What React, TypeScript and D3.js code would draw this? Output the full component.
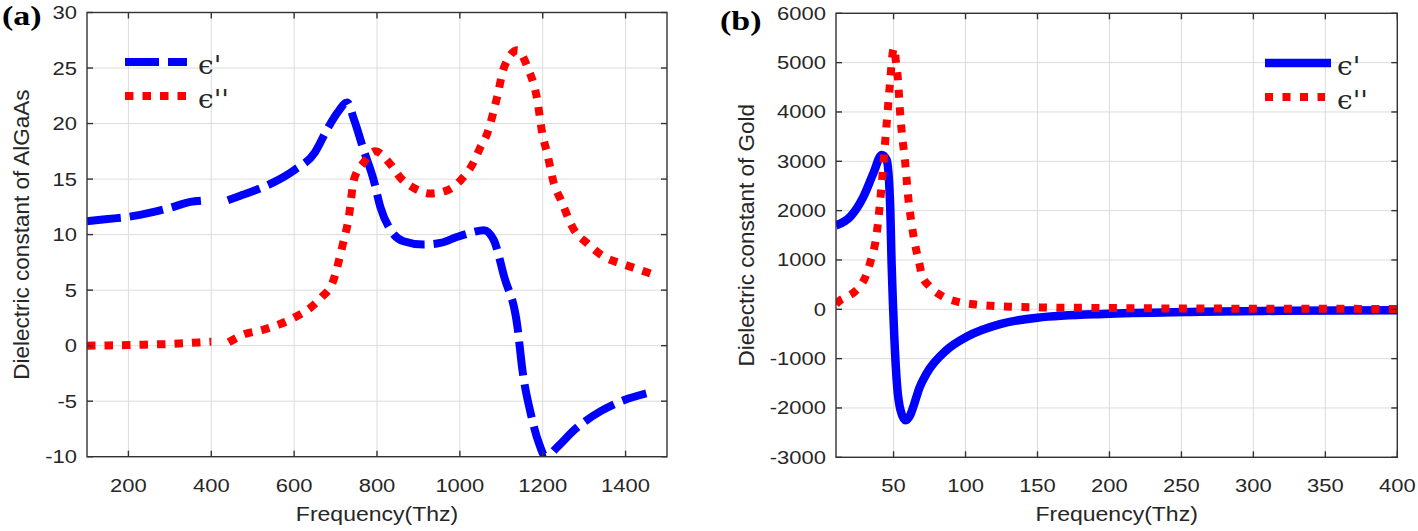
import React from 'react';
import * as d3 from 'd3';

// ---------- Panel (a): AlGaAs ----------
const aFreq = [100, 150, 200, 250, 300, 350, 375, 410, 440, 470, 500, 550, 600, 650, 680, 705, 728, 745, 768, 792, 808, 833, 864, 912, 953, 994, 1030, 1058, 1082, 1107, 1139, 1151, 1171, 1191, 1207, 1236, 1276, 1340, 1397, 1450];
const aReal: (number | null)[] = [11.2, 11.4, 11.6, 11.95, 12.4, 12.95, 13.05, null, 13.1, 13.5, 13.9, 14.7, 15.8, 17.4, 19.5, 21.0, 21.9, 20.3, 17.6, 14.9, 12.5, 10.4, 9.4, 9.1, 9.25, 9.8, 10.2, 10.4, 9.5, 6.2, 1.7, -2.2, -6.1, -8.8, -10.0, -9.1, -7.6, -5.9, -4.9, -4.3];

const aImagFreq = [100, 150, 200, 250, 300, 350, 400, 420, 442, 478, 522, 563, 599, 639, 667, 692, 716, 732, 744, 768, 796, 833, 857, 889, 929, 970, 1002, 1030, 1050, 1066, 1078, 1090, 1107, 1139, 1163, 1187, 1199, 1211, 1227, 1244, 1276, 1308, 1348, 1389, 1437, 1460];
const aImag: (number | null)[] = [0, 0.02, 0.05, 0.1, 0.15, 0.25, 0.35, null, 0.3, 1.0, 1.4, 1.9, 2.5, 3.4, 4.4, 5.6, 8.9, 11.6, 14.9, 16.5, 17.5, 16.3, 15.1, 14.2, 13.7, 14.0, 14.9, 16.3, 17.9, 19.1, 20.6, 22.4, 25.1, 26.6, 25.1, 22.1, 19.1, 17.3, 14.6, 13.1, 10.4, 9.2, 8.0, 7.4, 6.8, 6.5];

const aXTicks = [200, 400, 600, 800, 1000, 1200, 1400];
const aYTicks = [-10, -5, 0, 5, 10, 15, 20, 25, 30];

// ---------- Panel (b): Gold ----------
const bFreq = [10, 20, 29, 36, 41.8, 45.2, 47.5, 48.7, 50.5, 52.5, 54.8, 58.3, 61.5, 64.5, 68, 73, 86.9, 100.8, 124, 150, 200, 263, 320, 400];
const bReal: (number | null)[] = [1700, 1880, 2280, 2760, 3130, 3030, 2215, 863, -556, -1570, -2042, -2250, -2150, -1906, -1590, -1298, -825, -556, -300, -170, -90, -48, -30, -20];

const bImagFreq = [10, 12, 18, 23, 27, 30, 33.6, 38.3, 41.8, 45.2, 47.5, 49.5, 50.5, 51.7, 53.1, 54.5, 55.9, 57.9, 60, 63.5, 68.4, 69.6, 75.3, 84.6, 96.2, 108, 124, 150, 200, 300, 400];
const bImag: (number | null)[] = [100, 160, 260, 356, 480, 628, 932, 1540, 2554, 3770, 4580, 5220, 5300, 5000, 4640, 4000, 3530, 3030, 2320, 1550, 860, 695, 458, 255, 141, 95, 60, 40, 25, 12, 8];

const bXTicks = [50, 100, 150, 200, 250, 300, 350, 400];
const bYTicks = [-3000, -2000, -1000, 0, 1000, 2000, 3000, 4000, 5000, 6000];

const legendLabels = ["\u03F5'", "\u03F5''"];

const AXIS = '#333333';
const TXT = '#262626';
const GRID = '#dcdcdc';
const SANS = '"Liberation Sans", Arial, Helvetica, sans-serif';

type Series = { freq: number[]; vals: (number | null)[]; color: string; dash?: string; width: number };

function Panel(props: {
  id: string;
  left: number; right: number; top: number; bottom: number;
  xDomain: [number, number]; yDomain: [number, number];
  xTicks: number[]; yTicks: number[];
  series: Series[];
  yLabel: string; yLabelX: number;
  tag: string; tagX: number; tagY: number;
  legend: { x1: number; x2: number; y: number; textX: number }[];
}) {
  const { left, right, top, bottom } = props;
  const x = d3.scaleLinear().domain(props.xDomain).range([left, right]);
  const y = d3.scaleLinear().domain(props.yDomain).range([bottom, top]);
  const line = d3.line<[number, number | null]>()
    .defined(d => d[1] !== null)
    .x(d => x(d[0]))
    .y(d => y(d[1] as number))
    .curve(d3.curveMonotoneX);
  const tickLen = 6;
  const cx = (left + right) / 2;
  const cy = (top + bottom) / 2;
  return (
    <g>
      <defs>
        <clipPath id={'clip-' + props.id}>
          <rect x={left} y={top} width={right - left} height={bottom - top} />
        </clipPath>
      </defs>
      <rect x={left} y={top} width={right - left} height={bottom - top} fill="#fff" />
      {props.xTicks.map(t => (
        <line key={'gx' + t} x1={x(t)} x2={x(t)} y1={top} y2={bottom} stroke={GRID} strokeWidth={1} />
      ))}
      {props.yTicks.map(t => (
        <line key={'gy' + t} x1={left} x2={right} y1={y(t)} y2={y(t)} stroke={GRID} strokeWidth={1} />
      ))}
      <g clipPath={`url(#clip-${props.id})`}>
        {props.series.map((s, i) => (
          <path key={i}
            d={line(s.freq.map((f, k) => [f, s.vals[k]] as [number, number | null])) || ''}
            fill="none" stroke={s.color} strokeWidth={s.width}
            strokeDasharray={s.dash} strokeLinecap="butt" strokeLinejoin="round" />
        ))}
      </g>
      <rect x={left} y={top} width={right - left} height={bottom - top} fill="none" stroke={AXIS} strokeWidth={1.4} />
      {props.xTicks.map(t => (
        <g key={'tx' + t}>
          <line x1={x(t)} x2={x(t)} y1={bottom} y2={bottom - tickLen} stroke={AXIS} strokeWidth={1.4} />
          <line x1={x(t)} x2={x(t)} y1={top} y2={top + tickLen} stroke={AXIS} strokeWidth={1.4} />
          <text transform={`translate(${x(t)},${bottom + 35}) scale(1,0.85)`} textAnchor="middle"
            fontFamily={SANS} fontSize={22} fill={TXT}>{t}</text>
        </g>
      ))}
      {props.yTicks.map(t => (
        <g key={'ty' + t}>
          <line x1={left} x2={left + tickLen} y1={y(t)} y2={y(t)} stroke={AXIS} strokeWidth={1.4} />
          <line x1={right} x2={right - tickLen} y1={y(t)} y2={y(t)} stroke={AXIS} strokeWidth={1.4} />
          <text transform={`translate(${left - 10},${y(t) + 6.5}) scale(1,0.85)`} textAnchor="end"
            fontFamily={SANS} fontSize={22} fill={TXT}>{t}</text>
        </g>
      ))}
      <text transform={`translate(${cx},${521}) scale(1,0.88)`} textAnchor="middle"
        fontFamily={SANS} fontSize={23} fill={TXT}>Frequency(Thz)</text>
      <text transform={`translate(${props.yLabelX},${cy}) rotate(-90)`} textAnchor="middle"
        fontFamily={SANS} fontSize={22.5} fill={TXT}>{props.yLabel}</text>
      <text transform={`translate(${props.tagX},${props.tagY}) scale(1,0.8)`}
        fontFamily='"Liberation Serif", "Times New Roman", serif' fontWeight="bold" fontSize={34} fill="#000">{props.tag}</text>
      {props.legend.map((l, i) => {
        const s = props.series[i];
        return (
          <g key={'lg' + i}>
            <line x1={l.x1} x2={l.x2} y1={l.y} y2={l.y} stroke={s.color} strokeWidth={s.width}
              strokeDasharray={s.dash} strokeLinecap="butt" />
            <text transform={`translate(${l.textX},${l.y + 12}) scale(1,0.9)`}
              fontFamily='"DejaVu Serif", serif' fontSize={28} fill={TXT}>{legendLabels[i]}</text>
          </g>
        );
      })}
    </g>
  );
}

export default function App() {
  return (
    <svg width={1418} height={531} style={{ position: 'absolute', left: 0, top: 0, background: '#fff' }}>
      <rect x={0} y={0} width={1418} height={531} fill="#fff" />
      <Panel id="a" left={87} right={667} top={12.5} bottom={456.7}
        xDomain={[100, 1500]} yDomain={[-10, 30]} xTicks={aXTicks} yTicks={aYTicks}
        series={[
          { freq: aFreq, vals: aReal, color: '#0000ff', dash: '34 9', width: 8 },
          { freq: aImagFreq, vals: aImag, color: '#ff0000', dash: '8.5 9', width: 8 },
        ]}
        yLabel="Dielectric constant of AlGaAs" yLabelX={28.5}
        tag="(a)" tagX={2} tagY={25}
        legend={[
          { x1: 125, x2: 187, y: 62, textX: 198 },
          { x1: 125, x2: 187, y: 96, textX: 198 },
        ]} />
      <Panel id="b" left={836} right={1397.3} top={13.3} bottom={457.3}
        xDomain={[10, 400]} yDomain={[-3000, 6000]} xTicks={bXTicks} yTicks={bYTicks}
        series={[
          { freq: bFreq, vals: bReal, color: '#0000ff', width: 8.5 },
          { freq: bImagFreq, vals: bImag, color: '#ff0000', dash: '8 9.5', width: 8 },
        ]}
        yLabel="Dielectric constant of Gold" yLabelX={753.5}
        tag="(b)" tagX={720} tagY={30}
        legend={[
          { x1: 1265, x2: 1331, y: 63, textX: 1337 },
          { x1: 1265, x2: 1325, y: 97, textX: 1337 },
        ]} />
    </svg>
  );
}
